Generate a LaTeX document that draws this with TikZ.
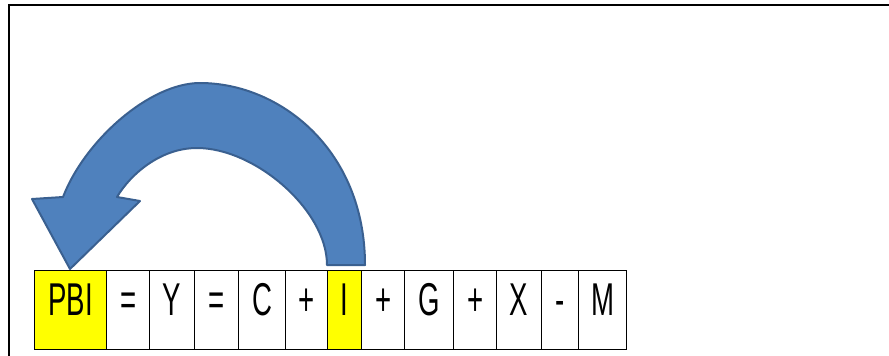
\documentclass[tikz,border=0pt]{standalone}
\usepackage{fontspec}
\setmainfont{Liberation Sans}
\usepackage{tikz}
\usetikzlibrary{calc}
\usepackage{xcolor}
\definecolor{ArrowBlue}{HTML}{4F81BD}
\definecolor{ArrowEdge}{HTML}{3A6090}
\definecolor{CellYellow}{HTML}{FFFF00}

\tikzset{
  cell/.style={draw=black,line width=1.3pt,anchor=north west,inner sep=0pt,
    text height=45.5pt,text depth=34pt,
    font=\fontsize{46}{46}\selectfont},
  flowarrow/.style={fill=ArrowBlue,draw=ArrowEdge,line width=2pt,line join=round}
}

\begin{document}
\begin{tikzpicture}[x=1pt,y=-1pt]
    \useasboundingbox (0,0) rectangle (889,356);
    % frame
    \draw[line width=2pt] (8.5,356) -- (8.5,5) -- (889,5);
    % equation cells
    \foreach \l/\r/\t/\fillc [count=\i] in {34/106/PBI/CellYellow,106/149/=/white,
      149/194/Y/white,194/238/=/white,238/285/C/white,285/327/+/white,
      327/361/I/CellYellow,361/404/+/white,404/453/G/white,453/496/+/white,
      496/541/X/white,541/578/-/white,578/626/M/white} {
     \node[cell,fill=\fillc,minimum width=\r pt-\l pt] (cell\i) at (\l,269.5)
       {\scalebox{0.6}[1]{\t}};
    }
    % curved arrow from I back to PBI
    \draw[flowarrow] (365,265)
      .. controls (365,150) and (280,83) .. (200,83)
      .. controls (150,83) and (85,140) .. (63,197)
      -- (32,199) -- (70,269) -- (140,201) -- (117,197)
      .. controls (130,175) and (160,148) .. (197,148)
      .. controls (255,148) and (327,210) .. (327,265) -- cycle;
   \end{tikzpicture}
\end{document}
